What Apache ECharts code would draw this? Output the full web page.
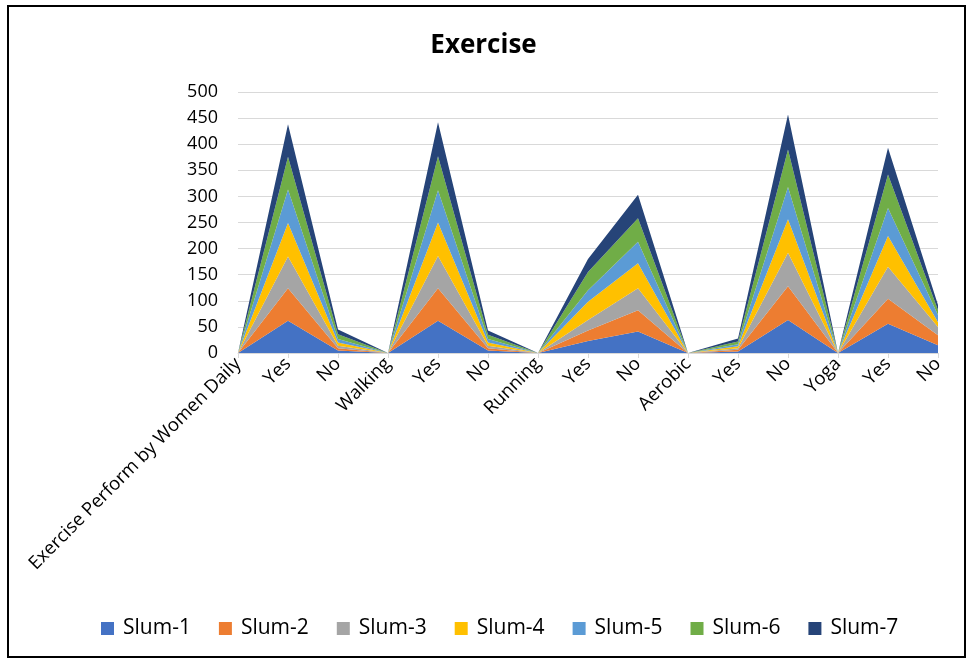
<!DOCTYPE html>
<html>
<head>
<meta charset="utf-8">
<script src="https://cdn.jsdelivr.net/npm/echarts@6/dist/echarts.min.js"></script>
<style>
  html, body { margin: 0; padding: 0; background: #fff; }
  #main { width: 967px; height: 661px; }
</style>
</head>
<body>
<div id="main"></div>
<script>
// categories along the x axis (groups and their Yes / No answers)
var categories = ['Exercise Perform by Women Daily', 'Yes', 'No', 'Walking', 'Yes', 'No',
  'Running', 'Yes', 'No', 'Aerobic', 'Yes', 'No', 'Yoga', 'Yes', 'No'];

var seriesNames = ['Slum-1', 'Slum-2', 'Slum-3', 'Slum-4', 'Slum-5', 'Slum-6', 'Slum-7'];

// values, one array per slum
var slum1 = [0, 62, 5, 0, 62, 5, 0, 23, 41, 0, 3, 63, 0, 56, 15];
var slum2 = [0, 62, 4, 0, 62, 4, 0, 20, 41, 0, 3, 65, 0, 48, 19];
var slum3 = [0, 61, 5, 0, 62, 5, 0, 20, 42, 0, 3, 64, 0, 61, 16];
var slum4 = [0, 64, 6, 0, 64, 6, 0, 35, 48, 0, 4, 64, 0, 59, 9];
var slum5 = [0, 64, 7, 0, 62, 7, 0, 22, 41, 0, 4, 62, 0, 54, 14];
var slum6 = [0, 63, 9, 0, 65, 8, 0, 35, 45, 0, 5, 72, 0, 64, 9];
var slum7 = [0, 62, 9, 0, 65, 8, 0, 25, 45, 0, 6, 67, 0, 51, 10];

var colors = ['#4472C4', '#ED7D31', '#A5A5A5', '#FFC000', '#5B9BD5', '#70AD47', '#264478'];

var chart = echarts.init(document.getElementById('main'));

var allData = [slum1, slum2, slum3, slum4, slum5, slum6, slum7];
var series = [];
for (var i = 0; i < seriesNames.length; i++) {
  series.push({
    name: seriesNames[i],
    type: 'line',
    stack: 'total',
    data: allData[i],
    showSymbol: false,
    symbol: 'none',
    lineStyle: { width: 0 },
    areaStyle: { color: colors[i], opacity: 1 },
    itemStyle: { color: colors[i] }
  });
}

var option = {
  animation: false,
  color: colors,
  textStyle: { fontFamily: 'Open Sans' },
  title: {
    text: 'Exercise',
    left: 'center',
    top: 28,
    textStyle: { fontSize: 26, fontWeight: 'bold', color: '#000', fontFamily: 'Open Sans' }
  },
  graphic: [{
    type: 'rect',
    shape: { x: 8, y: 6, width: 957, height: 651 },
    style: { fill: 'none', stroke: '#000', lineWidth: 2 },
    silent: true
  }],
  legend: {
    data: seriesNames,
    top: 613,
    left: 96,
    icon: 'rect',
    itemWidth: 13,
    itemHeight: 13,
    itemGap: 28,
    textStyle: { fontSize: 21, color: '#000', padding: [0, 0, 0, 4] }
  },
  grid: {
    left: 238,
    right: 29,
    top: 92,
    bottom: 308,
    containLabel: false
  },
  xAxis: {
    type: 'category',
    data: categories,
    boundaryGap: false,
    axisLine: { lineStyle: { color: '#D9D9D9' } },
    axisTick: { show: true, alignWithLabel: true, length: 5, lineStyle: { color: '#D9D9D9' } },
    axisLabel: { rotate: 45, interval: 0, fontSize: 18.5, color: '#000', margin: 8 },
    splitLine: { show: false }
  },
  yAxis: {
    type: 'value',
    min: 0,
    max: 500,
    interval: 50,
    axisLine: { show: false },
    axisTick: { show: false },
    axisLabel: { fontSize: 18, color: '#000', margin: 20 },
    splitLine: { lineStyle: { color: '#D9D9D9' } }
  },
  series: series
};

chart.setOption(option);
</script>
</body>
</html>
